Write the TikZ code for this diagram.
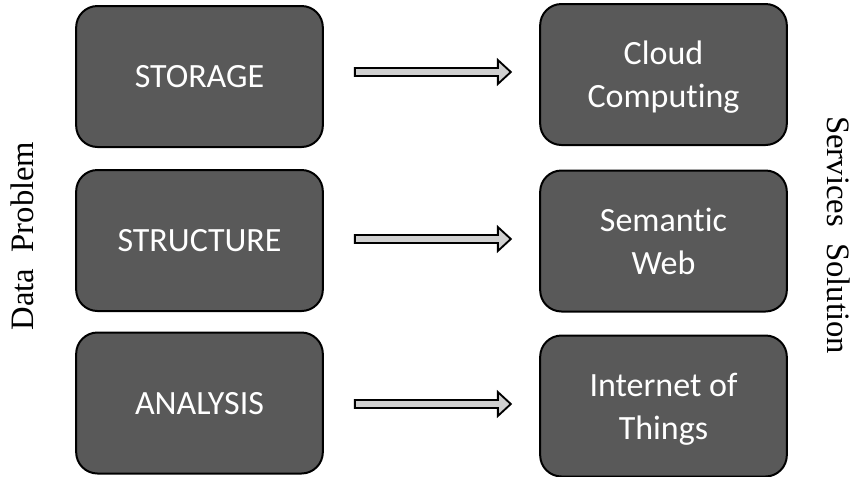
\documentclass[tikz,border=0pt]{standalone}
\usepackage{fontspec}
\setmainfont{Liberation Serif}
\newfontfamily\boxfont[Ligatures=CommonOff]{Carlito}
\usetikzlibrary{calc}
\definecolor{boxgray}{HTML}{595959}
\definecolor{arrgray}{HTML}{D0D0D0}
\tikzset{
  darkbox/.style={draw=black, line width=1.5pt, fill=boxgray, rounded corners=16pt,
    minimum width=185pt, minimum height=105.75pt, inner sep=0pt, text depth=0pt,
    text=white, align=center, font=\boxfont\fontsize{25.5}{32.3}\selectfont},
  sidetext/.style={font=\fontsize{24.5}{28}\selectfont, text=black, anchor=base, inner sep=0pt},
  blockarr/.style={draw=black, line width=1.4pt, fill=arrgray, line join=miter}
}
\newcommand{\blockarrow}[1]{%
  \draw[blockarr] (#1) ++(0,-4) -- ++(143,0) -- ++(0,-8) -- ++(13,12) -- ++(-13,12) -- ++(0,-8) -- ++(-143,0) -- cycle;}
\begin{document}
\begin{tikzpicture}[x=0.75pt,y=-0.75pt]
\useasboundingbox (0,0) rectangle (858,476);
% left column
\node[darkbox] (s1) at (199.5,76.5) {STORAGE};
\node[darkbox] (s2) at (199.5,240.5) {STRUCTURE};
\node[darkbox] (s3) at (199.5,403) {ANALYSIS};
% right column
\node[darkbox] (c1) at (663.5,74.5) {Cloud\\Computing};
\node[darkbox] (c2) at (663.5,241) {Semantic\\Web};
\node[darkbox] (c3) at (663.5,406) {Internet of\\Things};
% arrows
\path (s1.east |- 0,72) ++(31,0) coordinate (a1);
\path (s2.east |- 0,239) ++(31,0) coordinate (a2);
\path (s3.east |- 0,404) ++(31,0) coordinate (a3);
\blockarrow{a1}
\blockarrow{a2}
\blockarrow{a3}
% side labels
\node[sidetext, rotate=90] (dp) at (33,236) {Data\ \ Problem};
\node[sidetext, rotate=-90] (ss) at (827,235) {Services\ \ Solution};
\end{tikzpicture}
\end{document}
